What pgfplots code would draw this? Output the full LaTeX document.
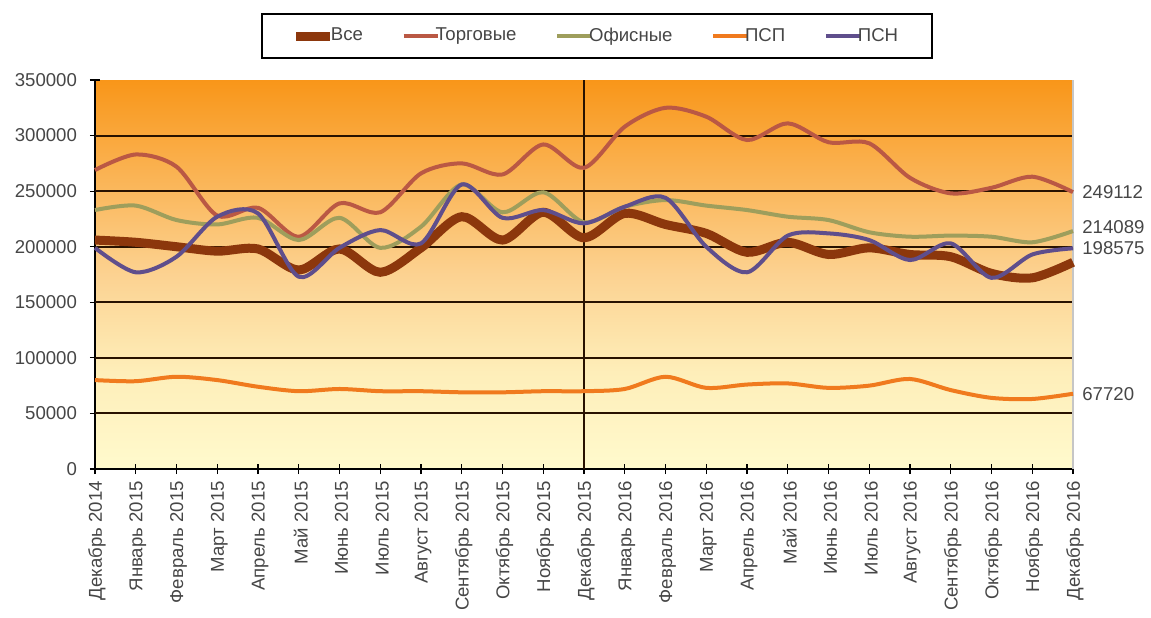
\documentclass[border=0pt]{standalone}
\usepackage{pgfplots}
\pgfplotsset{compat=1.18}
\usepackage{pgfplotstable}
\usepackage{fontspec}
\setmainfont{Liberation Sans}
\definecolor{cAll}{RGB}{140,55,12}
\definecolor{cTorg}{RGB}{186,88,68}
\definecolor{cOff}{RGB}{158,158,92}
\definecolor{cPSP}{RGB}{240,122,30}
\definecolor{cPSN}{RGB}{95,78,140}
\definecolor{txt}{RGB}{70,70,70}
\definecolor{gridc}{RGB}{40,18,0}
\definecolor{bg0}{RGB}{255,250,205}
\definecolor{bg1}{RGB}{254,238,185}
\definecolor{bg2}{RGB}{252,210,145}
\definecolor{bg3}{RGB}{250,180,85}
\definecolor{bg4}{RGB}{249,150,25}
\pgfdeclareverticalshading{bgshade}{100bp}{color(0bp)=(bg0); color(25bp)=(bg0); color(37.5bp)=(bg1); color(50bp)=(bg2); color(62.5bp)=(bg3); color(75bp)=(bg4); color(100bp)=(bg4)}
\pgfplotstableread{
idx all torg off psp psn
0 206000 269000 233000 80000 199000
1 204000 283000 237000 79000 177000
2 200000 272000 224000 83000 191000
3 196000 228000 220000 80000 227000
4 198000 235000 226000 74000 230000
5 179000 209000 206000 70000 173000
6 198000 239000 226000 72000 199000
7 177000 231000 199000 70000 215000
8 199000 266000 218000 70000 203000
9 227000 275000 256000 69000 256000
10 206000 265000 231000 69000 226000
11 231000 292000 249000 70000 233000
12 208000 271000 222000 70000 221000
13 230000 308000 236000 72000 236000
14 220000 325000 242000 83000 244000
15 212000 317000 237000 73000 200000
16 195000 296000 233000 76000 177000
17 204000 311000 227000 77000 210000
18 193000 294000 224000 73000 212000
19 199000 293000 213000 75000 206000
20 193000 262000 209000 81000 188000
21 191000 248000 210000 71000 203000
22 176000 253000 209000 64000 172000
23 172000 263000 204000 63000 193000
24 186000 249112 214089 67720 198575
}\datatable
\newcommand{\tf}{\fontsize{9.3}{11}\selectfont}
\begin{document}
\begin{tikzpicture}
\useasboundingbox (-47.5pt,-74pt) rectangle (528pt,234.5pt);
\begin{axis}[
  at={(0pt,0pt)}, anchor=south west,
  scale only axis, width=489pt, height=194.5pt,
  xmin=0, xmax=24, ymin=0, ymax=350000,
  axis background/.style={shading=bgshade},
  axis x line*=bottom, axis y line*=left,
  axis line style={black, line width=0.8pt},
  xtick={0,...,24},
  xticklabels={Декабрь 2014, Январь 2015, Февраль 2015, Март 2015, Апрель 2015, Май 2015, Июнь 2015, Июль 2015, Август 2015, Сентябрь 2015, Октябрь 2015, Ноябрь 2015, Декабрь 2015, Январь 2016, Февраль 2016, Март 2016, Апрель 2016, Май 2016, Июнь 2016, Июль 2016, Август 2016, Сентябрь 2016, Октябрь 2016, Ноябрь 2016, Декабрь 2016},
  xticklabel style={rotate=90, anchor=east, yshift=-1pt},
  ytick={0,50000,100000,150000,200000,250000,300000,350000},
  yticklabels={0,50000,100000,150000,200000,250000,300000,350000},
  yticklabel style={xshift=-3pt},
  scaled y ticks=false,
  tick align=center, major tick length=5pt,
  tick style={black, line width=0.6pt},
  every tick label/.append style={font=\tf, text=txt},
  extra y ticks={50000,100000,150000,200000,250000,300000},
  extra y tick labels={},
  extra x ticks={12}, extra x tick labels={},
  extra tick style={grid=major, major tick length=0pt},
  major grid style={draw=gridc, line width=1pt},
  legend columns=5,
  legend style={at={(axis description cs:0.5133,1.113)}, anchor=center,
    draw=black, line width=0.8pt, fill=white, font=\tf, text=txt,
    inner xsep=15pt, inner ysep=5pt,
    /tikz/every odd column/.append style={column sep=-4pt},
    /tikz/every even column/.append style={column sep=17.3pt}},
  legend image code/.code={\draw[#1, sharp plot] (0pt,0pt) -- (17pt,0pt);},
  clip=false,
]
\draw[gray!45, line width=0.6pt] (axis cs:24,0) -- (axis cs:24,350000);
\addplot[cAll, line width=4.5pt, smooth] table[x=idx, y=all] {\datatable};
\addlegendentry{Все}
\addplot[cTorg, line width=2pt, smooth] table[x=idx, y=torg] {\datatable};
\addlegendentry{Торговые}
\addplot[cOff, line width=2pt, smooth] table[x=idx, y=off] {\datatable};
\addlegendentry{Офисные}
\addplot[cPSP, line width=2pt, smooth] table[x=idx, y=psp] {\datatable};
\addlegendentry{ПСП}
\addplot[cPSN, line width=2pt, smooth] table[x=idx, y=psn] {\datatable};
\addlegendentry{ПСН}
\node[anchor=west, font=\tf, text=txt, inner sep=0pt] at (axis cs:24,249112) [xshift=4.5pt] {249112};
\node[anchor=west, font=\tf, text=txt, inner sep=0pt] at (axis cs:24,217500) [xshift=4.5pt] {214089};
\node[anchor=west, font=\tf, text=txt, inner sep=0pt] at (axis cs:24,198575) [xshift=4.5pt] {198575};
\node[anchor=west, font=\tf, text=txt, inner sep=0pt] at (axis cs:24,67720) [xshift=4.5pt] {67720};
\end{axis}
\end{tikzpicture}
\end{document}
